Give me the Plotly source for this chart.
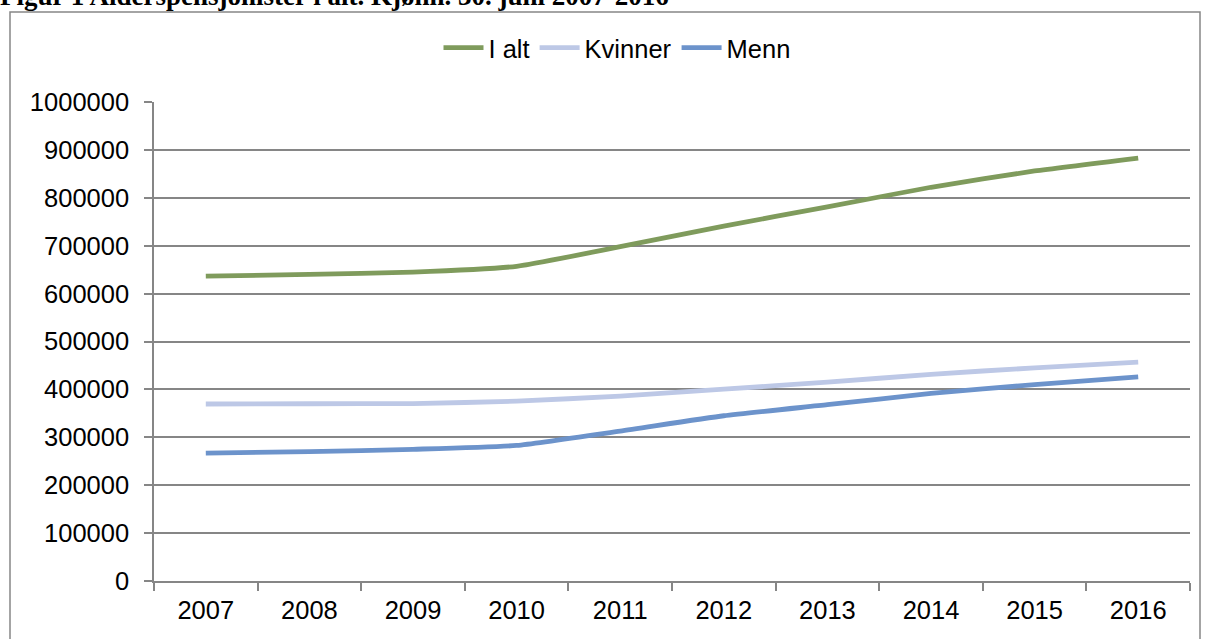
import plotly.graph_objects as go

years = ["2007", "2008", "2009", "2010", "2011", "2012", "2013", "2014", "2015", "2016"]
i_alt = [636500, 640000, 645000, 657000, 698000, 741000, 781000, 822000, 856000, 883000]
kvinner = [369500, 370000, 370500, 375500, 386000, 400500, 415000, 431500, 445000, 457000]
menn = [267000, 270000, 275000, 283000, 313000, 345000, 368000, 391500, 410000, 426000]

series = [("I alt", i_alt, "#7F9B5C"), ("Kvinner", kvinner, "#BDC8E6"), ("Menn", menn, "#6C93CB")]

fig = go.Figure()
for name, vals, col in series:
    fig.add_trace(go.Scatter(x=years, y=vals, name=name, mode="lines",
                             line=dict(color=col, width=4.8, shape="spline", smoothing=0.5)))

W, H = 1208, 639
L, R, T, B = 154, 18, 102, 58
pw, ph = W - L - R, H - T - B


def px(x):
    return (x - L) / pw


def py(y):
    return (H - B - y) / ph


fig.update_layout(
    width=W, height=H,
    margin=dict(l=L, r=R, t=T, b=B),
    paper_bgcolor="white", plot_bgcolor="white",
    font=dict(family="Liberation Sans, Arial, sans-serif", size=25.5, color="black"),
    showlegend=True,
    legend=dict(orientation="h", x=px(617), xanchor="center", y=py(48), yanchor="middle",
                font=dict(size=25.5), itemwidth=40, traceorder="normal",
                bgcolor="rgba(0,0,0,0)"),
    xaxis=dict(type="category", range=[-0.5, 9.5], showline=True, linecolor="#868686",
               linewidth=1.5, ticks="outside", tickson="boundaries", ticklen=8,
               tickcolor="#868686", tickwidth=1.5, showgrid=False, zeroline=False,
               ticklabelstandoff=6, tickfont=dict(size=25.5)),
    yaxis=dict(range=[0, 1000000], dtick=100000, tickformat="d", showline=True,
               linecolor="#868686", linewidth=1.5, ticks="outside", ticklen=8,
               tickcolor="#868686", tickwidth=1.5, showgrid=True, gridcolor="#868686",
               gridwidth=1.5, zeroline=False, ticklabelstandoff=10,
               tickfont=dict(size=25.5)),
    shapes=[dict(type="rect", xref="paper", yref="paper",
                 x0=px(10), x1=px(1200), y0=py(660), y1=py(12),
                 line=dict(color="#868686", width=1.5), fillcolor="rgba(0,0,0,0)", layer="below")],
    annotations=[dict(text="<b>Figur 1 Alderspensjonister i alt. Kjønn. 30. juni 2007-2016</b>",
                      xref="paper", yref="paper", x=px(-2), y=py(13), xanchor="left",
                      yanchor="bottom", showarrow=False,
                      font=dict(family="Liberation Serif, Times New Roman, serif", size=27,
                                color="black"))],
)

fig.write_html("out.html", config={"displayModeBar": False},
               post_script="document.body.style.margin='0';document.body.style.overflow='hidden';")
